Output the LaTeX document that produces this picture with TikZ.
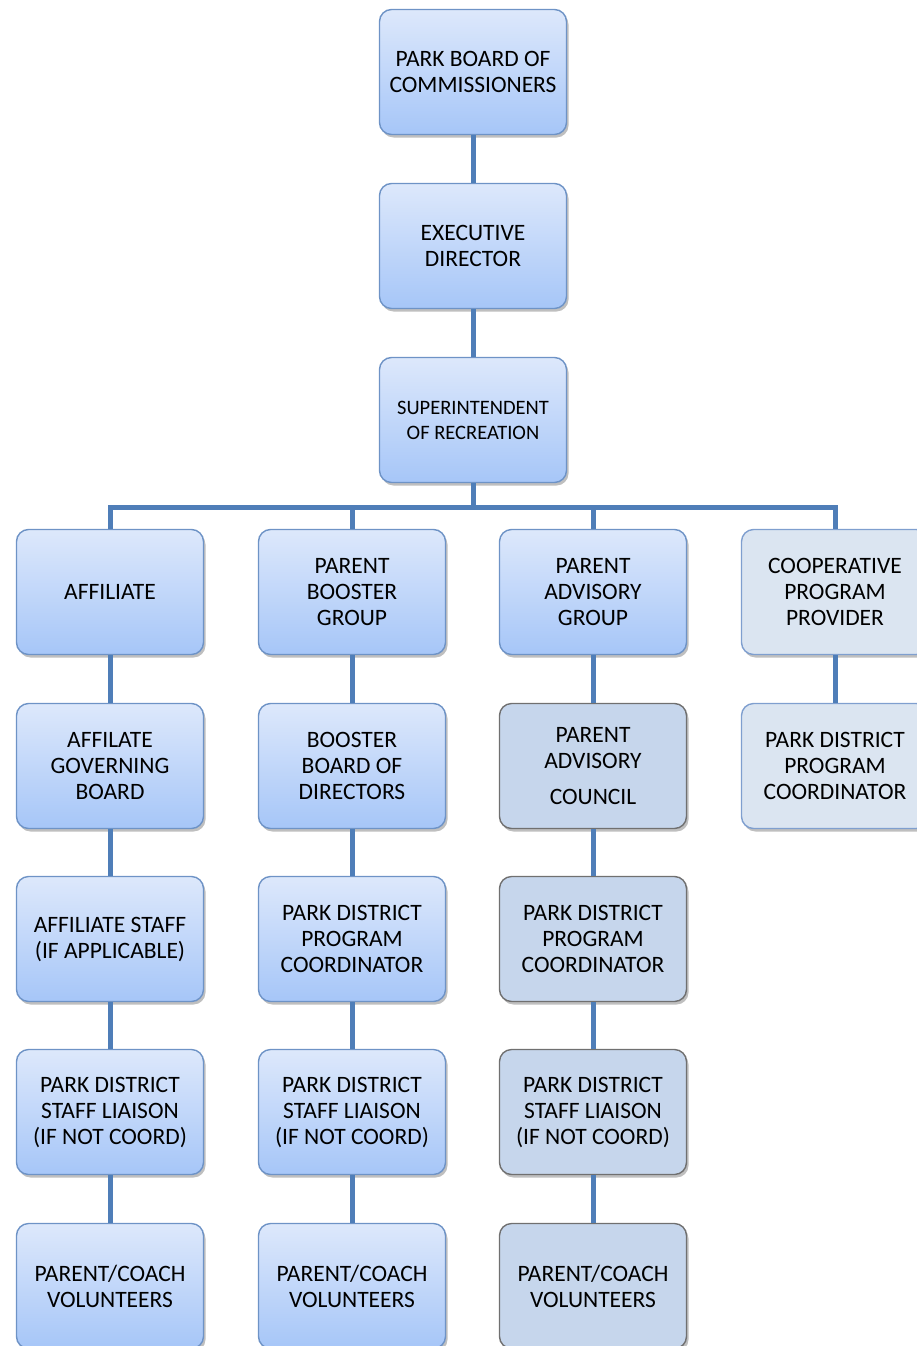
\documentclass[tikz,border=0pt]{standalone}
\usepackage{fontspec}
\setmainfont{Carlito}
\usetikzlibrary{shadows}
\definecolor{topb}{HTML}{DDE8FB}
\definecolor{botb}{HTML}{A6C6F8}
\definecolor{edgeb}{HTML}{6E93C6}
\definecolor{grayfill}{HTML}{C6D6EC}
\definecolor{grayedge}{HTML}{707070}
\definecolor{palefill}{HTML}{DBE5F1}
\definecolor{paleedge}{HTML}{7F9FCF}
\definecolor{linkc}{HTML}{4F7EB8}
\tikzset{
  box/.style={draw=edgeb, line width=1.4pt, rounded corners=12pt, top color=topb, bottom color=botb,
    minimum width=187pt, minimum height=125pt, align=center, inner sep=2pt,
    font=\fontsize{23.5}{26}\selectfont,
    drop shadow={shadow xshift=2pt, shadow yshift=-3pt, opacity=0.25, fill=black}},
  graybox/.style={box, draw=grayedge, top color=grayfill, bottom color=grayfill},
  palebox/.style={box, draw=paleedge, top color=palefill, bottom color=palefill},
  link/.style={draw=linkc, line width=5pt}
}
\begin{document}
\begin{tikzpicture}[x=1pt,y=-1pt]
\useasboundingbox (0,0) rectangle (917,1346);
\node[box] (pb) at (473,72) {PARK BOARD OF\\COMMISSIONERS};
\node[box] (ed) at (473,246) {EXECUTIVE\\DIRECTOR};
\node[box, font=\fontsize{20.5}{25}\selectfont] (sr) at (473,420) {SUPERINTENDENT\\OF RECREATION};
% column 1
\node[box] (a1) at (110,592) {AFFILIATE};
\node[box] (a2) at (110,766) {AFFILATE\\GOVERNING\\BOARD};
\node[box] (a3) at (110,939) {AFFILIATE STAFF\\(IF APPLICABLE)};
\node[box] (a4) at (110,1112) {PARK DISTRICT\\STAFF LIAISON\\(IF NOT COORD)};
\node[box] (a5) at (110,1286) {PARENT/COACH\\VOLUNTEERS};
% column 2
\node[box] (b1) at (352,592) {PARENT\\BOOSTER\\GROUP};
\node[box] (b2) at (352,766) {BOOSTER\\BOARD OF\\DIRECTORS};
\node[box] (b3) at (352,939) {PARK DISTRICT\\PROGRAM\\COORDINATOR};
\node[box] (b4) at (352,1112) {PARK DISTRICT\\STAFF LIAISON\\(IF NOT COORD)};
\node[box] (b5) at (352,1286) {PARENT/COACH\\VOLUNTEERS};
% column 3
\node[box] (c1) at (593,592) {PARENT\\ADVISORY\\GROUP};
\node[graybox] (c2) at (593,766) {PARENT\\ADVISORY\\[10pt]COUNCIL};
\node[graybox] (c3) at (593,939) {PARK DISTRICT\\PROGRAM\\COORDINATOR};
\node[graybox] (c4) at (593,1112) {PARK DISTRICT\\STAFF LIAISON\\(IF NOT COORD)};
\node[graybox] (c5) at (593,1286) {PARENT/COACH\\VOLUNTEERS};
% column 4
\node[palebox] (d1) at (835,592) {COOPERATIVE\\PROGRAM\\PROVIDER};
\node[palebox] (d2) at (835,766) {PARK DISTRICT\\PROGRAM\\COORDINATOR};
% connectors
\coordinate (bar) at (473,507);
\draw[link] (pb.south) -- (ed.north);
\draw[link] (ed.south) -- (sr.north);
\draw[link] (sr.south) -- (bar);
\draw[link] (a1.north) -- (a1.north |- bar) -- (d1.north |- bar) -- (d1.north);
\draw[link] (b1.north |- bar) -- (b1.north);
\draw[link] (c1.north |- bar) -- (c1.north);
\draw[link] (a1.south) -- (a2.north);
\draw[link] (a2.south) -- (a3.north);
\draw[link] (a3.south) -- (a4.north);
\draw[link] (a4.south) -- (a5.north);
\draw[link] (b1.south) -- (b2.north);
\draw[link] (b2.south) -- (b3.north);
\draw[link] (b3.south) -- (b4.north);
\draw[link] (b4.south) -- (b5.north);
\draw[link] (c1.south) -- (c2.north);
\draw[link] (c2.south) -- (c3.north);
\draw[link] (c3.south) -- (c4.north);
\draw[link] (c4.south) -- (c5.north);
\draw[link] (d1.south) -- (d2.north);
\end{tikzpicture}
\end{document}
